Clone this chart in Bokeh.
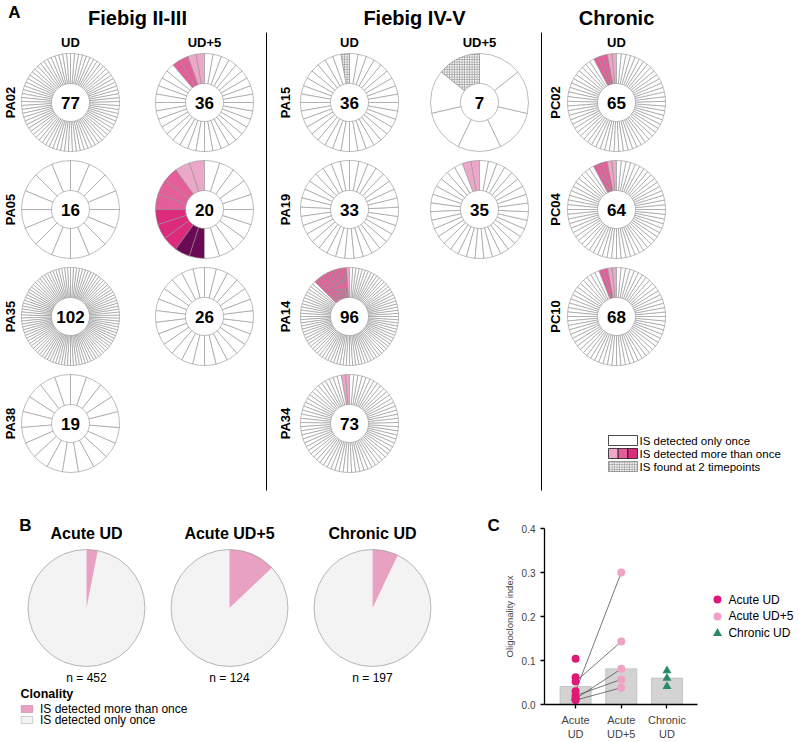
import numpy as np
from bokeh.plotting import figure
from bokeh.layouts import column, row
from bokeh.models import Range1d, FixedTicker, PrintfTickFormatter, ColumnDataSource
from bokeh.core.properties import value
from bokeh.embed import file_html
from bokeh.resources import INLINE

FONT = "Liberation Sans"

# ---------------- Panel A data ----------------
titles_A = ["Fiebig II-III", "Fiebig IV-V", "Chronic"]
timepoints_A = ["UD", "UD+5", "UD", "UD+5", "UD"]
f23_patients = ["PA02", "PA05", "PA35", "PA38"]
f23_ud_total = [77, 16, 102, 19]
f23_ud5_total = [36, 20, 26]
f45_patients = ["PA15", "PA19", "PA14", "PA34"]
f45_ud_total = [36, 33, 96, 73]
f45_ud5_total = [7, 35]
chr_patients = ["PC02", "PC04", "PC10"]
chr_ud_total = [65, 64, 68]
# segments counterclockwise from 12 o'clock: L/M/H/D = distinct IS detected more than once,
# X = IS found at 2 timepoints, remaining = IS detected only once
f23_ud_expanded = ["", "", "", ""]
f23_ud5_expanded = ["LLMM", "LLMMMHHHDD", ""]
f45_ud_expanded = ["X", "", "LMMMMMMMMMMM", "LL"]
f45_ud5_expanded = ["X", "LL"]
chr_ud_expanded = ["LLMMM", "LLMMM", "LLMM"]
legend_A = ["IS detected only once", "IS detected more than once", "IS found at 2 timepoints"]

# ---------------- Panel B data ----------------
pie_groups = ["Acute UD", "Acute UD+5", "Chronic UD"]
pie_total = [452, 124, 197]
pie_more_than_once = [14, 16, 14]
legend_B = ["IS detected more than once", "IS detected only once"]

# ---------------- Panel C data ----------------
c_categories = ["Acute\nUD", "Acute\nUD+5", "Chronic\nUD"]
c_bar_values = [0.041, 0.081, 0.060]
acute_ud_patients = ["PA02", "PA05", "PA35", "PA38", "PA15", "PA19", "PA14", "PA34"]
acute_ud_index = [0.020, 0.030, 0.010, 0.012, 0.052, 0.013, 0.104, 0.062]
acute_ud5_patients = ["PA02", "PA05", "PA35", "PA15", "PA19"]
acute_ud5_index = [0.057, 0.300, 0.038, 0.143, 0.081]
chronic_ud_index = [0.077, 0.060, 0.041]
legend_C = ["Acute UD", "Acute UD+5", "Chronic UD"]

# ---------------- styles ----------------
COLORS = {"W": "white", "L": "#eca8c9", "M": "#e45f9a", "H": "#dc2a7c", "D": "#6a0a55", "X": "white"}
SEG_LINE = "#909090"
R_OUT, R_IN = 49, 19
col_x = [70, 204, 349, 479, 616]
row_y = [102, 209, 316, 423]
HA = 505
W = 799


def ya(y):
    return HA - y


def txt(p, xs, ys, texts, size, bold=False, align="center", baseline="middle", angle=0.0, color="black"):
    p.text(x=xs, y=ys, text=texts, text_font=value(FONT), text_font_size=f"{size}px",
           text_font_style="bold" if bold else "normal", text_align=align,
           text_baseline=baseline, angle=angle, text_color=color)


def base_fig(w, h, xr, yr):
    p = figure(width=w, height=h, x_range=xr, y_range=yr, output_backend="svg",
               toolbar_location=None, x_axis_location=None, y_axis_location=None,
               min_border=0, outline_line_color=None)
    p.grid.visible = False
    p.frame_align = False
    return p


# ================= Panel A =================
pA = base_fig(W, HA, Range1d(0, W), Range1d(0, HA))

donuts = []
for c, totals, exps in [(0, f23_ud_total, f23_ud_expanded), (1, f23_ud5_total, f23_ud5_expanded),
                        (2, f45_ud_total, f45_ud_expanded), (3, f45_ud5_total, f45_ud5_expanded),
                        (4, chr_ud_total, chr_ud_expanded)]:
    for r, (n, ex) in enumerate(zip(totals, exps)):
        donuts.append((c, r, n, ex))

seg = {k: [] for k in ["x", "y", "s", "e", "c"]}
hat = {k: [] for k in ["x", "y", "s", "e"]}
num = {k: [] for k in ["x", "y", "t"]}
for c, r, n, ex in donuts:
    cx, cy = col_x[c], ya(row_y[r])
    step = 2 * np.pi / n
    for i in range(n):
        code = ex[i] if i < len(ex) else "W"
        s = np.pi / 2 + i * step
        if code == "X":
            hat["x"].append(cx); hat["y"].append(cy); hat["s"].append(s); hat["e"].append(s + step)
        else:
            seg["x"].append(cx); seg["y"].append(cy); seg["s"].append(s); seg["e"].append(s + step)
            seg["c"].append(COLORS[code])
    num["x"].append(cx); num["y"].append(cy); num["t"].append(str(n))

pA.annular_wedge(x="x", y="y", inner_radius=R_IN, outer_radius=R_OUT, start_angle="s", end_angle="e",
                 fill_color="c", line_color=SEG_LINE, line_width=0.6, source=ColumnDataSource(seg))
pA.annular_wedge(x="x", y="y", inner_radius=R_IN, outer_radius=R_OUT, start_angle="s", end_angle="e",
                 fill_color="#f4f4f4", line_color=SEG_LINE, line_width=0.6, hatch_pattern="cross",
                 hatch_scale=2.5, hatch_color="#9a9a9a", hatch_weight=0.8, source=ColumnDataSource(hat))
txt(pA, num["x"], num["y"], num["t"], 17, bold=True)

# titles / headers / row labels
txt(pA, [14], [ya(12)], ["A"], 17, bold=True)
txt(pA, [137, 414, 616], [ya(17)] * 3, titles_A, 20, bold=True)
txt(pA, col_x, [ya(42)] * 5, timepoints_A, 13, bold=True)
lab_x, lab_y, lab_t = [], [], []
for lx, pats in [(10, f23_patients), (285, f45_patients), (555, chr_patients)]:
    for r, ptxt in enumerate(pats):
        lab_x.append(lx); lab_y.append(ya(row_y[r])); lab_t.append(ptxt)
txt(pA, lab_x, lab_y, lab_t, 13, bold=True, angle=np.pi / 2)

# dividers
pA.segment(x0=[266, 541], y0=[ya(32)] * 2, x1=[266, 541], y1=[ya(490)] * 2, line_color="black", line_width=1)

# legend A
lg_x0, lg_w, lg_h = 608, 29, 10
lg_rows = [440, 453, 466]
pA.rect(x=[lg_x0 + lg_w / 2], y=[ya(lg_rows[0])], width=lg_w, height=lg_h, fill_color="white",
        line_color="black", line_width=0.7)
sub = lg_w / 3
pA.rect(x=[lg_x0 + sub * (k + 0.5) for k in range(3)], y=[ya(lg_rows[1])] * 3, width=sub, height=lg_h,
        fill_color=[COLORS["L"], COLORS["M"], COLORS["H"]], line_color="black", line_width=0.7)
pA.rect(x=[lg_x0 + lg_w / 2], y=[ya(lg_rows[2])], width=lg_w, height=lg_h, fill_color="#f4f4f4",
        line_color="#777777", line_width=0.7, hatch_pattern="cross", hatch_scale=2.5,
        hatch_color="#9a9a9a", hatch_weight=0.8)
txt(pA, [lg_x0 + lg_w + 2] * 3, [ya(v) for v in lg_rows], legend_A, 11.5, align="left")

# ================= Panel B =================
WB, HB = 500, 742 - HA
pB = base_fig(WB, HB, Range1d(0, WB), Range1d(0, HB))


def yb(y):
    return 742 - y


pie_x = [86, 229, 372]
pie_y = yb(607.5)
pie_r = 58.5
frac = [m / t for m, t in zip(pie_more_than_once, pie_total)]
pink_end = [np.pi / 2 for _ in frac]
pink_start = [np.pi / 2 - 2 * np.pi * f for f in frac]
pB.wedge(x=pie_x, y=[pie_y] * 3, radius=pie_r, start_angle=pink_end, end_angle=pink_start,
         fill_color="#f3f3f3", line_color=None)
pB.wedge(x=pie_x, y=[pie_y] * 3, radius=pie_r, start_angle=pink_start, end_angle=pink_end,
         fill_color="#e8a1c3", line_color=None)
pB.circle(x=pie_x, y=[pie_y] * 3, radius=pie_r, fill_color=None, line_color="#9a9a9a", line_width=0.7)
txt(pB, [25], [yb(525)], ["B"], 17, bold=True)
txt(pB, pie_x, [yb(533)] * 3, pie_groups, 16, bold=True)
txt(pB, pie_x, [yb(677)] * 3, [f"n = {t}" for t in pie_total], 12)
txt(pB, [20], [yb(693)], ["Clonality"], 12.5, bold=True, align="left")
pB.rect(x=[26.5, 26.5], y=[yb(708.5), yb(719.5)], width=11.5, height=7,
        fill_color=["#e8a1c3", "#f3f3f3"], line_color=["#c77f9f", "#b0b0b0"], line_width=0.6)
txt(pB, [39.5, 39.5], [yb(708.5), yb(719.5)], legend_B, 12, align="left")
txt(pB, [487], [yb(525)], ["C"], 17, bold=True, align="left")

# ================= Panel C =================
WC = W - WB
pC = figure(width=WC, height=HB, x_range=Range1d(-0.68, 4.90), y_range=Range1d(0, 0.4),
            output_backend="svg", toolbar_location=None, min_border_left=44, min_border_right=0,
            min_border_top=23, min_border_bottom=36, outline_line_color=None)
pC.grid.visible = False
pC.frame_align = False
xc = list(range(len(c_categories)))
pC.vbar(x=xc, top=c_bar_values, width=0.68, fill_color="#d3d3d3", line_color="#b8b8b8", line_width=0.7)

ud_lookup = dict(zip(acute_ud_patients, acute_ud_index))
pC.segment(x0=[0] * len(acute_ud5_patients), y0=[ud_lookup[p] for p in acute_ud5_patients],
           x1=[1] * len(acute_ud5_patients), y1=acute_ud5_index, line_color="#555555", line_width=0.8)
pC.scatter(x=[0] * len(acute_ud_index), y=acute_ud_index, size=8, marker="circle",
           fill_color="#e0187a", line_color=None)
pC.scatter(x=[1] * len(acute_ud5_index), y=acute_ud5_index, size=8, marker="circle",
           fill_color="#efa2c6", line_color=None)
pC.scatter(x=[2] * len(chronic_ud_index), y=chronic_ud_index, size=9, marker="triangle",
           fill_color="#2a8a68", line_color=None)

# legend C (placed in the empty right part of the frame)
leg_x = 3.105
leg_y = [0.2386, 0.2002, 0.1618]
pC.scatter(x=[leg_x] * 2, y=leg_y[:2], size=8, marker="circle", fill_color=["#e0187a", "#efa2c6"],
           line_color=None)
pC.scatter(x=[leg_x], y=leg_y[2:], size=9, marker="triangle", fill_color="#2a8a68", line_color=None)
txt(pC, [leg_x + 0.24] * 3, leg_y, legend_C, 12, align="left")

ax = pC.yaxis[0]
ax.ticker = FixedTicker(ticks=[0.0, 0.1, 0.2, 0.3, 0.4])
ax.formatter = PrintfTickFormatter(format="%.1f")
ax.axis_label = "Oligoclonality index"
ax.axis_label_text_font = FONT
ax.axis_label_text_font_style = "normal"
ax.axis_label_text_font_size = "9.5px"
ax.axis_label_standoff = 4
ax.major_label_text_font = FONT
ax.major_label_text_font_size = "10px"
ax.major_tick_out = 4
ax.major_tick_in = 0
ax.minor_tick_out = 0
ax.minor_tick_in = 0
ax.axis_line_width = 1.3
ax.major_tick_line_width = 1.3

bx = pC.xaxis[0]
bx.ticker = FixedTicker(ticks=xc)
bx.major_label_overrides = {i: lab for i, lab in zip(xc, c_categories)}
bx.bounds = (-0.68, 2.67)
bx.major_label_text_font = FONT
bx.major_label_text_font_size = "11px"
bx.major_tick_out = 4
bx.major_tick_in = 0
bx.minor_tick_out = 0
bx.minor_tick_in = 0
bx.major_label_standoff = 5
bx.axis_line_width = 1.3
bx.major_tick_line_width = 1.3

layout = column(pA, row(pB, pC))
open("out.html", "w").write(file_html(layout, INLINE))
